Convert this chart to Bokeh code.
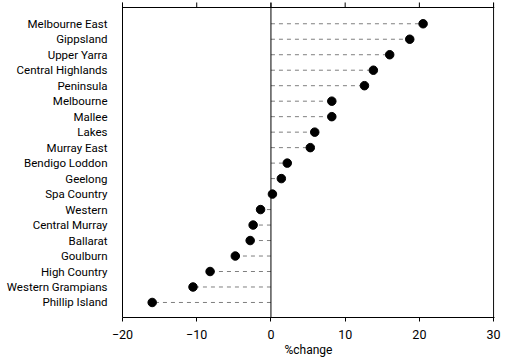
from bokeh.plotting import figure
from bokeh.models import Range1d, FixedTicker, Span, ColumnDataSource
from bokeh.embed import file_html
from bokeh.resources import INLINE

regions = ["Melbourne East", "Gippsland", "Upper Yarra", "Central Highlands", "Peninsula",
           "Melbourne", "Mallee", "Lakes", "Murray East", "Bendigo Loddon", "Geelong",
           "Spa Country", "Western", "Central Murray", "Ballarat", "Goulburn",
           "High Country", "Western Grampians", "Phillip Island"]
pct_change = [20.5, 18.7, 16.0, 13.8, 12.6, 8.2, 8.2, 5.9, 5.3, 2.2, 1.4,
              0.2, -1.4, -2.4, -2.8, -4.8, -8.2, -10.5, -16.0]
x_ticks = [-20, -10, 0, 10, 20, 30]
x_tick_labels = ["\u221220", "\u221210", "0", "10", "20", "30"]

FONT = "Roboto"
n = len(regions)
ypos = [n - i for i in range(n)]
box_top = n + 1.05
src = ColumnDataSource(dict(y=ypos, x=pct_change, zero=[0] * n, name=regions))
tick_src = ColumnDataSource(dict(x=x_ticks, y0=[box_top] * len(x_ticks),
                                 y1=[box_top + 1.0] * len(x_ticks)))

p = figure(width=506, height=360, min_border_left=122, min_border_right=12,
           min_border_top=2, min_border_bottom=43,
           x_range=Range1d(-20, 30.12), y_range=Range1d(0.03, box_top + 0.323),
           output_backend="svg", toolbar_location=None,
           x_axis_location="below", y_axis_location="left")
p.background_fill_color = "white"
p.border_fill_color = "white"
p.outline_line_color = None
p.xgrid.visible = False
p.ygrid.visible = False

p.segment(x0="zero", y0="y", x1="x", y1="y", source=src, line_color="#7f7f7f",
          line_width=1, line_dash="4 4")
p.add_layout(Span(location=0, dimension="height", line_color="black", line_width=1))
# box: top line, right line, top tick marks
p.add_layout(Span(location=box_top, dimension="width", line_color="black", line_width=1))
p.add_layout(Span(location=30, dimension="height", line_color="black", line_width=1))
p.segment(x0="x", y0="y0", x1="x", y1="y1", source=tick_src, line_color="black", line_width=1)
p.scatter(x="x", y="y", source=src, size=8.5, fill_color="black", line_color="black")

# x axis (below)
xa = p.xaxis[0]
xa.ticker = FixedTicker(ticks=x_ticks)
xa.major_label_overrides = {t: l for t, l in zip(x_ticks, x_tick_labels)}
xa.axis_line_color = "black"
xa.major_tick_in = 0
xa.major_tick_out = 4
xa.minor_tick_line_color = None
xa.major_label_standoff = 8
xa.major_label_text_font = FONT
xa.major_label_text_font_size = "12.5px"
xa.major_label_text_color = "black"
xa.axis_label = "%change"
xa.axis_label_text_font = FONT
xa.axis_label_text_font_size = "12px"
xa.axis_label_text_font_style = "normal"
xa.axis_label_text_color = "black"
xa.axis_label_standoff = 1

# y axis (labels only, line forms the left border)
ya = p.yaxis[0]
ya.ticker = FixedTicker(ticks=ypos)
ya.major_label_overrides = {y: nm for y, nm in zip(ypos, regions)}
ya.axis_line_color = "black"
ya.major_tick_line_color = None
ya.minor_tick_line_color = None
ya.major_label_standoff = 9
ya.major_label_text_font = FONT
ya.major_label_text_font_size = "11.5px"
ya.major_label_text_color = "black"

open("out.html", "w").write(file_html(p, INLINE))
